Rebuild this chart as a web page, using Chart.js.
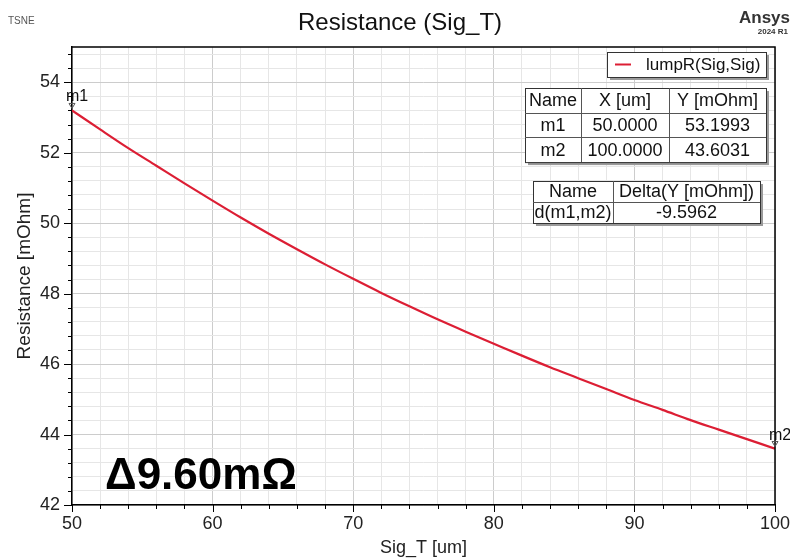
<!DOCTYPE html>
<html>
<head>
<meta charset="utf-8">
<script src="https://cdn.jsdelivr.net/npm/chart.js@4.4.1/dist/chart.umd.min.js"></script>
<style>
  html, body { margin: 0; padding: 0; background: #fff; }
</style>
</head>
<body>
<canvas id="resChart" width="790" height="560"></canvas>
<script>
// swept thickness vs resistance
const sigT = [50, 52, 54, 56, 58, 60, 62, 64, 66, 68, 70, 72, 74, 76, 78, 80, 82, 84, 86, 88, 90, 92, 94, 96, 98, 100];
const resistance = [53.20, 52.66, 52.13, 51.63, 51.13, 50.64, 50.16, 49.70, 49.26, 48.83, 48.42, 48.02, 47.64, 47.27, 46.92, 46.58, 46.24, 45.91, 45.60, 45.29, 44.98, 44.70, 44.41, 44.14, 43.87, 43.60];

const xTickLabels = [50, 60, 70, 80, 90, 100];
const yTickLabels = [42, 44, 46, 48, 50, 52, 54];

const markerNames = ['m1', 'm2'];
const markerX = [50, 100];
const markerY = [53.1993, 43.6031];

const FONT = "'Liberation Sans', Arial, sans-serif";
const lineColor = '#dc1e34';

function gridColor(isMajor) {
    return isMajor ? '#cccccc' : '#e6e6e6';
}

function shadowBox(ctx, x, y, w, h) {
    ctx.fillStyle = '#9a9a9a';
    ctx.fillRect(x + 3, y + 3, w, h);
    ctx.fillStyle = '#ffffff';
    ctx.fillRect(x, y, w, h);
    ctx.strokeStyle = '#333';
    ctx.lineWidth = 1;
    ctx.strokeRect(x + 0.5, y + 0.5, w, h);
}

function drawTable(ctx, x, y, colW, rowH, rows) {
    const w = colW.reduce((a, b) => a + b, 0);
    const h = rowH * rows.length;
    shadowBox(ctx, x, y, w, h);
    ctx.strokeStyle = '#555';
    ctx.beginPath();
    let cx = x;
    for (let c = 0; c < colW.length - 1; c++) {
        cx += colW[c];
        ctx.moveTo(Math.round(cx) + 0.5, y);
        ctx.lineTo(Math.round(cx) + 0.5, y + h);
    }
    for (let r = 1; r < rows.length; r++) {
        ctx.moveTo(x, Math.round(y + r * rowH) + 0.5);
        ctx.lineTo(x + w, Math.round(y + r * rowH) + 0.5);
    }
    ctx.stroke();
    ctx.fillStyle = '#111';
    ctx.font = '18px ' + FONT;
    ctx.textAlign = 'center';
    ctx.textBaseline = 'middle';
    rows.forEach((row, r) => {
        let left = x;
        row.forEach((txt, c) => {
            ctx.fillText(txt, left + colW[c] / 2, y + r * rowH + rowH / 2 + 1);
            left += colW[c];
        });
    });
}

const overlay = {
    id: 'overlay',
    afterDraw(chart) {
        const ctx = chart.ctx;
        const xs = chart.scales.x, ys = chart.scales.y;
        const area = chart.chartArea;
        ctx.save();

        // frame: top and right
        ctx.strokeStyle = '#000';
        ctx.lineWidth = 1.5;
        ctx.beginPath();
        ctx.moveTo(area.left, area.top);
        ctx.lineTo(area.right, area.top);
        ctx.lineTo(area.right, area.bottom);
        ctx.stroke();

        // tick marks outside the axes
        ctx.lineWidth = 1;
        ctx.beginPath();
        xs.ticks.forEach(t => {
            const px = Math.round(xs.getPixelForValue(t.value)) + 0.5;
            const len = xTickLabels.includes(t.value) ? 7 : 4;
            ctx.moveTo(px, area.bottom);
            ctx.lineTo(px, area.bottom + len);
        });
        ys.ticks.forEach(t => {
            const py = Math.round(ys.getPixelForValue(t.value)) + 0.5;
            const len = yTickLabels.includes(t.value) ? 8 : 4;
            ctx.moveTo(area.left, py);
            ctx.lineTo(area.left - len, py);
        });
        ctx.stroke();

        // header texts
        ctx.fillStyle = '#111';
        ctx.textBaseline = 'middle';
        ctx.textAlign = 'center';
        ctx.font = '24px ' + FONT;
        ctx.fillText('Resistance (Sig_T)', 400, 23);
        ctx.textAlign = 'left';
        ctx.fillStyle = '#555';
        ctx.font = '10px ' + FONT;
        ctx.fillText('TSNE', 8, 21);
        ctx.textAlign = 'right';
        ctx.fillStyle = '#333';
        ctx.font = 'bold 17px ' + FONT;
        ctx.fillText('Ansys', 790, 18);
        ctx.font = 'bold 8px ' + FONT;
        ctx.fillText('2024 R1', 788, 32);

        // legend
        const ds = chart.data.datasets[0];
        shadowBox(ctx, 607, 52, 159, 25);
        ctx.strokeStyle = lineColor;
        ctx.lineWidth = 2;
        ctx.beginPath();
        ctx.moveTo(615, 64.5);
        ctx.lineTo(631, 64.5);
        ctx.stroke();
        ctx.fillStyle = '#111';
        ctx.textAlign = 'left';
        ctx.font = '17px ' + FONT;
        ctx.fillText(ds.label, 646, 65);

        // marker tables
        const rows1 = [['Name', 'X [um]', 'Y [mOhm]']];
        markerNames.forEach((n, i) => rows1.push([n, markerX[i].toFixed(4), markerY[i].toFixed(4)]));
        drawTable(ctx, 525, 88, [56, 88, 97], 24.7, rows1);
        const delta = markerY[1] - markerY[0];
        drawTable(ctx, 533, 181, [80, 147], 21, [
            ['Name', 'Delta(Y [mOhm])'],
            ['d(' + markerNames[0] + ',' + markerNames[1] + ')', delta.toFixed(4)]
        ]);

        // markers on the curve
        markerNames.forEach((n, i) => {
            const px = xs.getPixelForValue(markerX[i]);
            const py = ys.getPixelForValue(markerY[i]);
            ctx.strokeStyle = '#555';
            ctx.lineWidth = 1;
            ctx.beginPath();
            ctx.moveTo(px - 3, py - 7);
            ctx.lineTo(px + 3, py - 7);
            ctx.lineTo(px, py - 2);
            ctx.closePath();
            ctx.stroke();
            ctx.fillStyle = '#111';
            ctx.textAlign = 'left';
            ctx.textBaseline = 'alphabetic';
            ctx.font = '16px ' + FONT;
            ctx.fillText(n, px - 6, py - 9);
        });

        // big delta annotation
        ctx.fillStyle = '#000';
        ctx.font = 'bold 44px ' + FONT;
        ctx.textAlign = 'left';
        ctx.textBaseline = 'alphabetic';
        ctx.fillText('\u0394' + Math.abs(delta).toFixed(2) + 'm\u03A9', 105, 489);

        ctx.restore();
    }
};

const ctx = document.getElementById('resChart');

new Chart(ctx, {
    type: 'line',
    data: {
        datasets: [{
            label: 'lumpR(Sig,Sig)',
            data: sigT.map((x, i) => ({ x: x, y: resistance[i] })),
            borderColor: lineColor,
            borderWidth: 2.2,
            pointRadius: 0,
            cubicInterpolationMode: 'monotone',
            fill: false
        }]
    },
    options: {
        responsive: false,
        animation: false,
        devicePixelRatio: 1,
        layout: { padding: { top: 47, right: 15, bottom: 0, left: 0 } },
        plugins: {
            legend: { display: false },
            tooltip: { enabled: false }
        },
        scales: {
            x: {
                type: 'linear',
                min: 50,
                max: 100,
                afterBuildTicks: s => {
                    const t = [];
                    for (let v = 50; v <= 100; v += 2) t.push({ value: v });
                    s.ticks = t;
                },
                afterFit: s => {
                    s.height = 55;
                    s.paddingLeft = 0;
                    s.paddingRight = 0;
                },
                ticks: {
                    autoSkip: false,
                    maxRotation: 0,
                    padding: 8,
                    color: '#222',
                    font: { family: FONT, size: 18 },
                    callback: v => xTickLabels.includes(v) ? String(v) : ''
                },
                grid: {
                    drawTicks: false,
                    color: c => gridColor(c.tick && xTickLabels.includes(c.tick.value))
                },
                border: { color: '#000', width: 1.5 },
                title: {
                    display: true,
                    text: 'Sig_T [um]',
                    color: '#222',
                    font: { family: FONT, size: 18 },
                    padding: { top: 0, bottom: 1 }
                }
            },
            y: {
                type: 'linear',
                min: 42,
                max: 55,
                afterBuildTicks: s => {
                    const t = [];
                    for (let i = 0; i <= 32; i++) t.push({ value: Math.round((42 + i * 0.4) * 10) / 10 });
                    s.ticks = t;
                },
                afterFit: s => {
                    s.width = 72;
                    s.paddingTop = 0;
                    s.paddingBottom = 0;
                },
                ticks: {
                    autoSkip: false,
                    padding: 12,
                    color: '#222',
                    font: { family: FONT, size: 18 },
                    callback: v => yTickLabels.includes(v) ? String(v) : ''
                },
                grid: {
                    drawTicks: false,
                    color: c => gridColor(c.tick && yTickLabels.includes(c.tick.value))
                },
                border: { color: '#000', width: 1.5 },
                title: {
                    display: true,
                    text: 'Resistance [mOhm]',
                    color: '#222',
                    font: { family: FONT, size: 19 },
                    padding: { top: 13, bottom: 0 }
                }
            }
        }
    },
    plugins: [overlay]
});
</script>
</body>
</html>
